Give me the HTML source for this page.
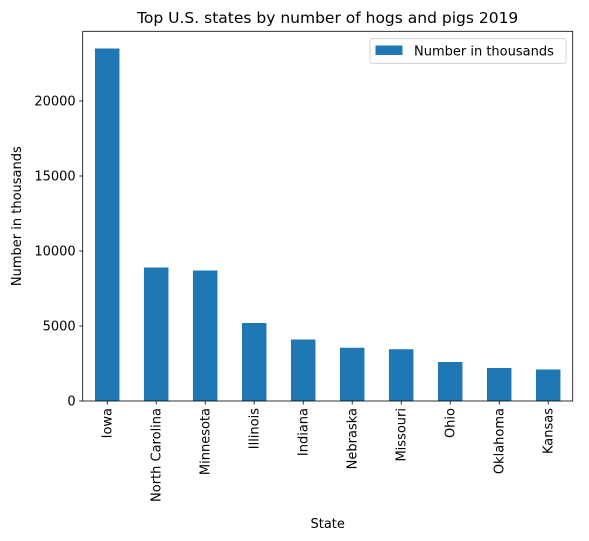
<!DOCTYPE html>
<html><head><meta charset="utf-8"><style>
body{margin:0;background:#fff;}
svg{display:block;font-family:"DejaVu Sans","Liberation Sans",sans-serif;}
</style></head><body>
<svg id="chart" width="589" height="541" xmlns="http://www.w3.org/2000/svg">
<rect width="589" height="541" fill="#fff"/>
<g id="bars"></g>
<g id="axes"></g>
</svg>
<script>
const categories = ["Iowa","North Carolina","Minnesota","Illinois","Indiana","Nebraska","Missouri","Ohio","Oklahoma","Kansas"];
const values = [23500,8900,8700,5200,4100,3550,3450,2600,2200,2100];
const yTicks = [0,5000,10000,15000,20000];

const L=82.7,R=572.7,T=31.3,B=401;
const NS="http://www.w3.org/2000/svg";
const svg=document.getElementById('chart');
const barsG=document.getElementById('bars');
const axG=document.getElementById('axes');
function y(v){return B - v*0.015;}
const band=(R-L)/categories.length;
function x(i){return L + band*(i+0.5);}
function el(tag,attrs,parent,text){const e=document.createElementNS(NS,tag);for(const k in attrs)e.setAttribute(k,attrs[k]);if(text!==undefined)e.textContent=text;parent.appendChild(e);return e;}

categories.forEach((c,i)=>{
  const r=el('rect',{x:x(i)-band*0.25,y:y(values[i]),width:band*0.5,height:B-y(values[i]),fill:'#1f77b4'},barsG);
  
  
  el('line',{x1:x(i),x2:x(i),y1:B,y2:B+3.5,stroke:'#000','stroke-width':0.8},axG);
  const t=el('text',{x:0,y:0,'font-size':13,'text-anchor':'end',transform:`translate(${x(i)+4.5},${B+7}) rotate(-90)`},axG,c);
  
  
});
yTicks.forEach(v=>{
  el('line',{x1:L-3.5,x2:L,y1:y(v),y2:y(v),stroke:'#000','stroke-width':0.8},axG);
  const t=el('text',{x:L-7,y:y(v)+4.5,'font-size':13,'text-anchor':'end'},axG,String(v));
  
  
});
const fr=el('rect',{x:L,y:T,width:R-L,height:B-T,fill:'none',stroke:'#000','stroke-width':0.8},axG);



const title=el('text',{x:(L+R)/2,y:23,'font-size':15.5,'text-anchor':'middle'},svg,'Top U.S. states by number of hogs and pigs 2019');


const yl=el('text',{x:0,y:0,'font-size':13,'text-anchor':'middle',transform:`translate(21,${(T+B)/2}) rotate(-90)`},svg,'Number in thousands');


const xl=el('text',{x:(L+R)/2,y:528,'font-size':13,'text-anchor':'middle'},svg,'State');



const lg=el('g',{},svg);


el('rect',{x:370,y:38.7,width:196,height:24.6,rx:2,fill:'#fff',stroke:'#ccc','stroke-width':0.8},lg);
el('rect',{x:375.5,y:45.5,width:27,height:9.5,fill:'#1f77b4'},lg);
el('text',{x:414,y:55.5,'font-size':13},lg,'Number in thousands');
</script>
</body></html>
